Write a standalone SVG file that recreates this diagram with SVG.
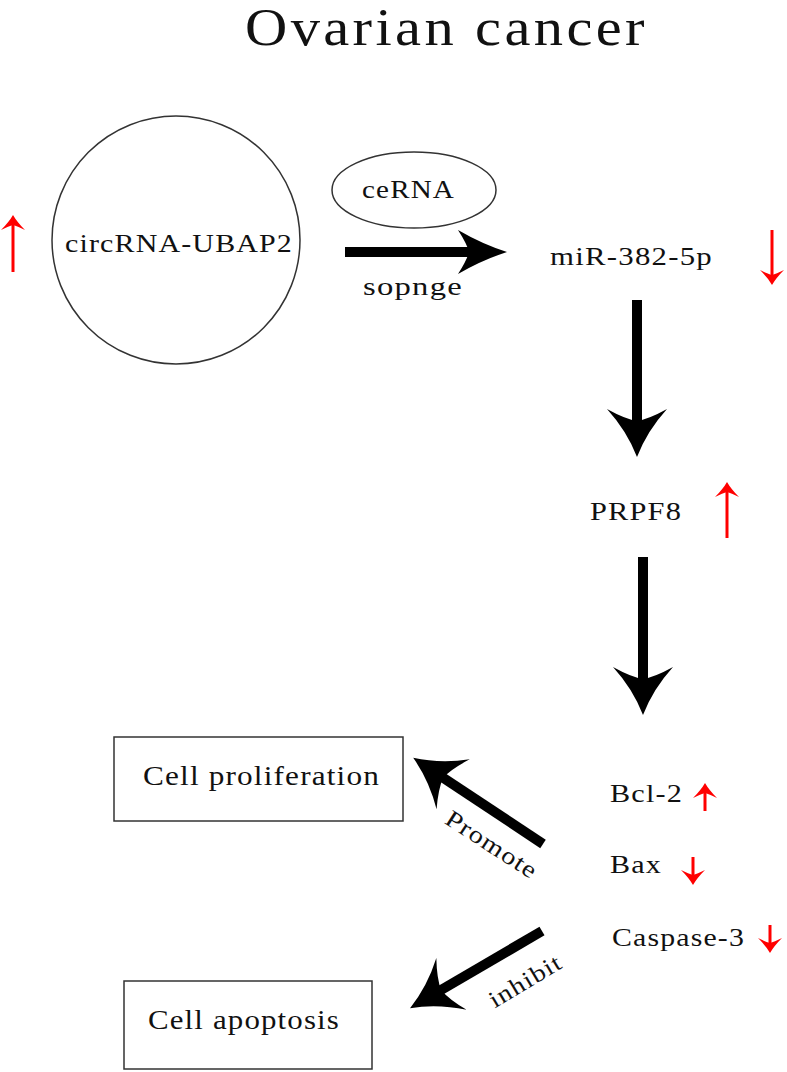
<svg xmlns="http://www.w3.org/2000/svg" width="787" height="1072" viewBox="0 0 787 1072">
<defs>
<style>
.t{font-family:"Liberation Serif","Times New Roman",serif;fill:#111}
.node{fill:none;stroke:#333;stroke-width:1.5}
.big{stroke:#000;stroke-width:10;fill:none}
.red{stroke:#f00;stroke-width:3;fill:none}
</style>
<marker id="hBig" markerUnits="userSpaceOnUse" markerWidth="50" markerHeight="62" viewBox="0 0 50 62" refX="20" refY="31" orient="auto">
<path d="M48,31 Q22,21 0,1 Q10,19 12,31 Q10,43 0,61 Q22,41 48,31 Z" fill="#000"/>
</marker>
<marker id="hMid" markerUnits="userSpaceOnUse" markerWidth="50" markerHeight="46" viewBox="0 0 50 46" refX="20" refY="23" orient="auto">
<path d="M49,23 Q24,15 0,1 Q9,15 11,23 Q9,31 0,45 Q24,31 49,23 Z" fill="#000"/>
</marker>
<marker id="hRed" markerUnits="userSpaceOnUse" markerWidth="16" markerHeight="26" viewBox="0 0 16 26" refX="6" refY="13" orient="auto">
<path d="M15,13 Q8,9 0,1 Q4,9 5,13 Q4,17 0,25 Q8,17 15,13 Z" fill="#f00"/>
</marker>
</defs>
<rect width="787" height="1072" fill="#fff"/>

<g id="title"><text class="t" x="245" y="45" font-size="52" textLength="403" lengthAdjust="spacingAndGlyphs" letter-spacing="3">Ovarian cancer</text></g>

<g id="circRNA">
<circle class="node" cx="176" cy="240" r="124"/>
<text class="t" x="65" y="252" font-size="26" textLength="228" lengthAdjust="spacingAndGlyphs" letter-spacing="1">circRNA-UBAP2</text>
</g>
<g id="ceRNA">
<ellipse class="node" cx="414" cy="190" rx="82" ry="38"/>
<text class="t" x="362" y="198" font-size="25" textLength="93" lengthAdjust="spacingAndGlyphs" letter-spacing="1">ceRNA</text>
</g>
<g id="miR"><text class="t" x="550" y="265" font-size="25" textLength="163" lengthAdjust="spacingAndGlyphs" letter-spacing="1">miR-382-5p</text></g>
<g id="PRPF8"><text class="t" x="590" y="520" font-size="26" textLength="92" lengthAdjust="spacingAndGlyphs" letter-spacing="1">PRPF8</text></g>
<g id="Bcl2"><text class="t" x="610" y="802" font-size="26" textLength="73" lengthAdjust="spacingAndGlyphs" letter-spacing="1">Bcl-2</text></g>
<g id="Bax"><text class="t" x="610" y="873" font-size="26" textLength="52" lengthAdjust="spacingAndGlyphs" letter-spacing="1">Bax</text></g>
<g id="Caspase3"><text class="t" x="612" y="946" font-size="26" textLength="133" lengthAdjust="spacingAndGlyphs" letter-spacing="1">Caspase-3</text></g>
<g id="proliferation">
<rect class="node" x="114" y="737" width="289" height="84"/>
<text class="t" x="143" y="785" font-size="27" textLength="237" lengthAdjust="spacingAndGlyphs" letter-spacing="1">Cell proliferation</text>
</g>
<g id="apoptosis">
<rect class="node" x="124" y="981" width="248" height="88"/>
<text class="t" x="148" y="1029" font-size="27" textLength="192" lengthAdjust="spacingAndGlyphs" letter-spacing="1">Cell apoptosis</text>
</g>

<g id="connectors">
<line class="big" x1="345" y1="252" x2="478" y2="252" stroke-width="9" marker-end="url(#hMid)"/>
<line class="big" x1="637" y1="300" x2="637" y2="429" marker-end="url(#hBig)"/>
<line class="big" x1="643" y1="557" x2="643" y2="687" marker-end="url(#hBig)"/>
<line class="big" x1="543" y1="844" x2="436.5" y2="773.3" marker-end="url(#hBig)"/>
<line class="big" x1="542" y1="931" x2="434.2" y2="994" marker-end="url(#hBig)"/>
<text class="t" x="363" y="295" font-size="26" textLength="100" lengthAdjust="spacingAndGlyphs" letter-spacing="1">sopnge</text>
<text class="t" transform="translate(487,851) rotate(33)" x="-52" y="0" font-size="24" textLength="105" lengthAdjust="spacingAndGlyphs" letter-spacing="1">Promote</text>
<text class="t" transform="translate(529,988) rotate(-31)" x="-40" y="0" font-size="24" textLength="81" lengthAdjust="spacingAndGlyphs" letter-spacing="1">inhibit</text>
</g>

<g id="indicators">
<line class="red" x1="13" y1="272" x2="13" y2="224" marker-end="url(#hRed)"/>
<line class="red" x1="772" y1="230" x2="772" y2="276" marker-end="url(#hRed)"/>
<line class="red" x1="727" y1="538" x2="727" y2="491" marker-end="url(#hRed)"/>
<line class="red" x1="705" y1="811" x2="705" y2="792" marker-end="url(#hRed)"/>
<line class="red" x1="693" y1="857" x2="693" y2="876" marker-end="url(#hRed)"/>
<line class="red" x1="770" y1="925" x2="770" y2="944" marker-end="url(#hRed)"/>
</g>
</svg>
